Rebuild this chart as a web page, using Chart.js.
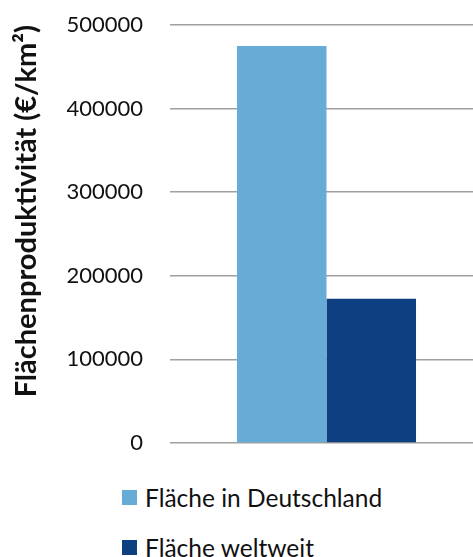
<!DOCTYPE html>
<html>
<head>
<meta charset="utf-8">
<script src="https://cdn.jsdelivr.net/npm/chart.js@4"></script>
<style>
  body { margin: 0; background: #fff; }
  #wrap { position: relative; width: 473px; height: 557px; overflow: hidden; }
  /* canvas a bit wider than the page so the gridlines run off the right edge */
  #chartBox { position: absolute; left: 0; top: 0; width: 483px; height: 470px; }
  #legend { position: absolute; left: 122px; top: 482px; font-family: Lato, sans-serif; font-size: 24.5px; color: #111; }
  .item { display: flex; align-items: center; height: 30px; margin-bottom: 20px; }
  .box { width: 15px; height: 15px; margin-right: 8px; }
</style>
</head>
<body>
<div id="wrap">
  <div id="chartBox"><canvas id="myChart"></canvas></div>
  <div id="legend"></div>
</div>
<script>
// chart data
const categories = ['']
const seriesNames = ['Fläche in Deutschland', 'Fläche weltweit']
const seriesValues = [[475000], [172500]]
const seriesColors = ['#66acd6', '#0e4081']
const yTitle = 'Flächenproduktivität (€/km²)'

// datasets from the arrays
let datasets = []
for (let i = 0; i < seriesNames.length; i++) {
    datasets.push({
        label: seriesNames[i],
        data: seriesValues[i],
        backgroundColor: seriesColors[i],
        borderWidth: 0,
        barPercentage: 1,
        categoryPercentage: 0.572
    })
}

let ctx = document.querySelector('#myChart').getContext('2d');
let myChart = new Chart(ctx, {
    type: 'bar',
    data: {
        labels: categories,
        datasets: datasets
    },
    options: {
        responsive: true,
        maintainAspectRatio: false,
        animation: false,
        layout: { padding: { top: 25, bottom: 27, left: 0, right: 0 } },
        plugins: {
            legend: { display: false },
            tooltip: { enabled: false }
        },
        scales: {
            x: { display: false },
            y: {
                min: 0,
                max: 500000,
                ticks: {
                    stepSize: 100000,
                    padding: 3,
                    color: '#111',
                    font: { family: 'Lato', size: 22 },
                    // plain numbers, no thousands separator
                    callback: function (value) { return String(value) }
                },
                grid: { color: '#a0a0a0', lineWidth: 1.5, drawTicks: true, tickLength: 24, tickColor: 'rgba(0,0,0,0)' },
                border: { display: false },
                title: {
                    display: true,
                    text: yTitle,
                    color: '#111',
                    align: 'end',
                    padding: { top: 9, bottom: 0 },
                    font: { family: 'Lato', size: 29, weight: 'bold' }
                },
                afterFit: function (scale) { scale.width = 170 }
            }
        }
    }
});

// legend below the chart, one item per line
let legend = document.querySelector('#legend')
for (let i = 0; i < seriesNames.length; i++) {
    let item = document.createElement('div')
    item.className = 'item'
    let box = document.createElement('span')
    box.className = 'box'
    box.style.background = seriesColors[i]
    let text = document.createElement('span')
    text.textContent = seriesNames[i]
    item.appendChild(box)
    item.appendChild(text)
    legend.appendChild(item)
}
</script>
</body>
</html>
